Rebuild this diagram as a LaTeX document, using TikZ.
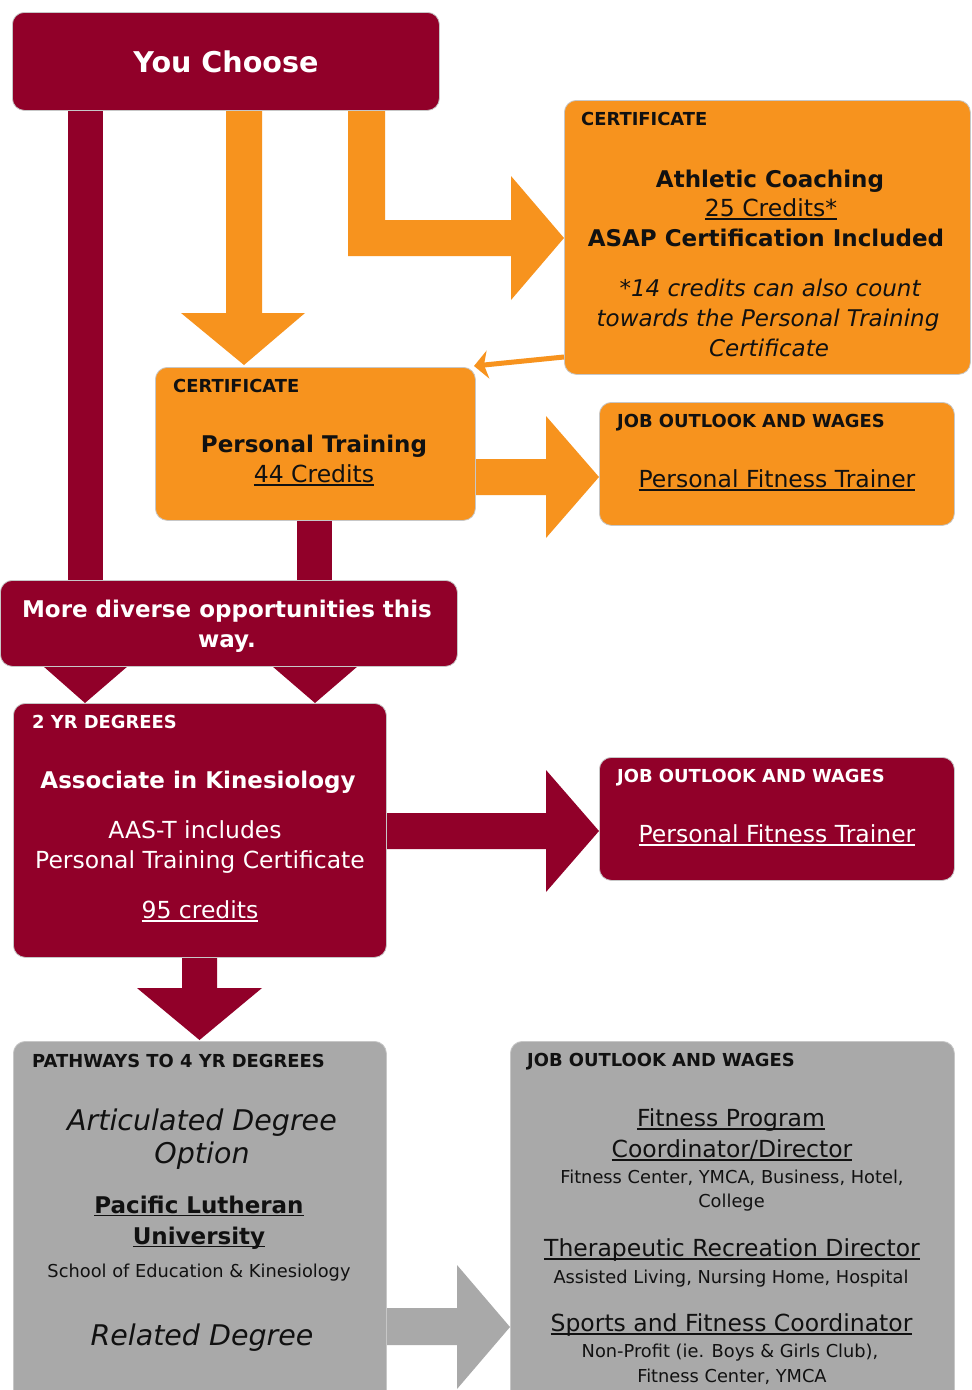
\documentclass[tikz,border=0pt]{standalone}
\usepackage{fontspec}
\setmainfont{DejaVu Sans}
\usetikzlibrary{arrows.meta}
\definecolor{maroon}{RGB}{145,0,41}
\definecolor{orng}{RGB}{247,147,30}
\definecolor{gry}{RGB}{169,169,169}
\definecolor{ink}{RGB}{17,17,17}
\newcommand\uln[1]{\setbox0\hbox{#1}\rlap{\rule[-0.15em]{\wd0}{0.07em}}\box0}
\begin{document}
\begin{tikzpicture}[x=1pt,y=-1pt,
  box/.style={draw=black!22, line width=0.8pt, rounded corners=12pt, anchor=north west, inner sep=0pt},
  hdr/.style={anchor=base west, inner sep=0pt, font=\fontsize{17.9}{20}\selectfont\bfseries},
  txt/.style={anchor=base, inner sep=0pt, font=\fontsize{23.5}{28}\selectfont},
  bld/.style={anchor=base, inner sep=0pt, font=\fontsize{23}{28}\selectfont\bfseries},
  itl/.style={anchor=base, inner sep=0pt, font=\fontsize{23}{28}\selectfont\itshape},
  big/.style={anchor=base, inner sep=0pt, font=\fontsize{28.5}{32}\selectfont\itshape},
  small/.style={anchor=base, inner sep=0pt, font=\fontsize{17.8}{20}\selectfont},
  thin/.style={draw=orng, line width=5pt, -{Stealth[length=14pt,width=28pt,inset=4pt]}},
]
\useasboundingbox[fill=white] (0,0) rectangle (972,1390);

% ---------- block arrows (drawn beneath boxes) ----------
\fill[orng] (226,105) -- (262,105) -- (262,313) -- (305,313) -- (244,365) -- (181,313) -- (226,313) -- cycle;
\fill[orng] (348,105) -- (385,105) -- (385,220) -- (511,220) -- (511,176) -- (564,238) -- (511,300) -- (511,256) -- (348,256) -- cycle;
\fill[orng] (470,459) -- (546,459) -- (546,416) -- (599,477) -- (546,538) -- (546,495) -- (470,495) -- cycle;
\fill[maroon] (68,105) rectangle (103,585);
\fill[maroon] (297,515) rectangle (332,585);
\fill[maroon] (43,660) -- (128,660) -- (128,666) -- (85,703) -- (43,666) -- cycle;
\fill[maroon] (272,660) -- (358,660) -- (358,666) -- (315,703) -- (272,666) -- cycle;
\fill[maroon] (380,813) -- (546,813) -- (546,770) -- (599,831) -- (546,892) -- (546,849) -- (380,849) -- cycle;
\fill[maroon] (182,950) -- (217,950) -- (217,988) -- (262,988) -- (199.5,1040) -- (137,988) -- (182,988) -- cycle;
\fill[gry] (380,1308) -- (457,1308) -- (457,1265) -- (510,1327) -- (457,1389) -- (457,1345) -- (380,1345) -- cycle;

% ---------- boxes ----------
\node[box, fill=maroon, minimum width=427pt, minimum height=98pt] (choose) at (12,12) {};
\node[box, fill=orng, minimum width=406pt, minimum height=274pt] (ath) at (564,100) {};
\node[box, fill=orng, minimum width=320pt, minimum height=153pt] (pt) at (155,367) {};
\node[box, fill=orng, minimum width=355pt, minimum height=123pt] (job1) at (599,402) {};
\node[box, fill=maroon, minimum width=457pt, minimum height=86pt] (more) at (0,580) {};
\node[box, fill=maroon, minimum width=373pt, minimum height=254pt] (two) at (13,703) {};
\node[box, fill=maroon, minimum width=355pt, minimum height=123pt] (job2) at (599,757) {};
\node[box, fill=gry, minimum width=373pt, minimum height=380pt] (path) at (13,1041) {};
\node[box, fill=gry, minimum width=444pt, minimum height=380pt] (job3) at (510,1041) {};

% thin connector Athletic -> Personal Training
\coordinate (thinS) at (564,357);
\coordinate (thinE) at (474,366);
\draw[thin] (thinS) -- (thinE);

% ---------- texts ----------
\node[anchor=base, inner sep=0pt, text=white, font=\fontsize{28.6}{32}\selectfont\bfseries] (t-choose) at (226,72) {You Choose};

\node[hdr, text=ink] (t-ath-h) at (581,125) {CERTIFICATE};
\node[bld, text=ink] (t-ath1) at (770,187) {Athletic Coaching};
\node[txt, text=ink] (t-ath2) at (771,216) {\uln{25 Credits*}};
\node[bld, text=ink] (t-ath3) at (766,246) {ASAP Certification Included};
\node[itl, text=ink] (t-ath4) at (770,296) {*14 credits can also count};
\node[itl, text=ink] (t-ath5) at (768,326) {towards the Personal Training};
\node[itl, text=ink] (t-ath6) at (769,356) {Certificate};

\node[hdr, text=ink] (t-pt-h) at (173,392) {CERTIFICATE};
\node[bld, text=ink] (t-pt1) at (314,452) {Personal Training};
\node[txt, text=ink] (t-pt2) at (314,482) {\uln{44 Credits}};

\node[hdr, text=ink] (t-j1-h) at (617,427) {JOB OUTLOOK AND WAGES};
\node[txt, text=ink] (t-j1) at (777,487) {\uln{Personal Fitness Trainer}};

\node[bld, text=white] (t-more1) at (227,617) {More diverse opportunities this};
\node[bld, text=white] (t-more2) at (227,647) {way.};

\node[hdr, text=white] (t-two-h) at (32,728) {2 YR DEGREES};
\node[bld, text=white] (t-two1) at (198,788) {Associate in Kinesiology};
\node[txt, text=white] (t-two2) at (195,838) {AAS-T includes};
\node[txt, text=white] (t-two3) at (200,868) {Personal Training Certificate};
\node[txt, text=white] (t-two4) at (200,918) {\uln{95 credits}};

\node[hdr, text=white] (t-j2-h) at (617,782) {JOB OUTLOOK AND WAGES};
\node[txt, text=white] (t-j2) at (777,842) {\uln{Personal Fitness Trainer}};

\node[hdr, text=ink] (t-path-h) at (32,1067) {PATHWAYS TO 4 YR DEGREES};
\node[big, text=ink] (t-path1) at (202,1130) {Articulated Degree};
\node[big, text=ink] (t-path2) at (202,1163) {Option};
\node[bld, text=ink] (t-path3) at (199,1213) {\uln{Pacific Lutheran}};
\node[bld, text=ink] (t-path4) at (199,1244) {\uln{University}};
\node[small, text=ink] (t-path5) at (199,1277) {School of Education \& Kinesiology};
\node[big, text=ink] (t-path6) at (202,1345) {Related Degree};

\node[hdr, text=ink] (t-j3-h) at (527,1066) {JOB OUTLOOK AND WAGES};
\node[txt, text=ink] (t-j3a) at (731,1126) {\uln{Fitness Program}};
\node[txt, text=ink] (t-j3b) at (732,1157) {\uln{Coordinator/Director}};
\node[small, text=ink] (t-j3c) at (732,1183) {Fitness Center, YMCA, Business, Hotel,};
\node[small, text=ink] (t-j3d) at (731.5,1207) {College};
\node[txt, text=ink] (t-j3e) at (732,1256) {\uln{Therapeutic Recreation Director}};
\node[small, text=ink] (t-j3f) at (731,1283) {Assisted Living, Nursing Home, Hospital};
\node[txt, text=ink] (t-j3g) at (731.5,1331) {\uln{Sports and Fitness Coordinator}};
\node[small, text=ink] (t-j3h) at (730,1357) {Non-Profit (ie. Boys \& Girls Club),};
\node[small, text=ink] (t-j3i) at (732,1382) {Fitness Center, YMCA};
\end{tikzpicture}
\end{document}
